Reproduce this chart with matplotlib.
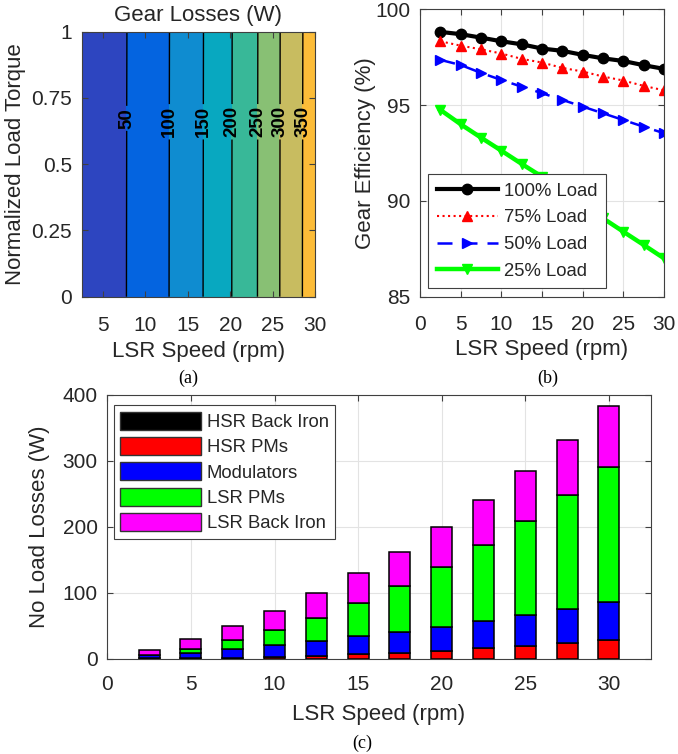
import numpy as np
import matplotlib
matplotlib.use("Agg")
import matplotlib.pyplot as plt
from matplotlib.colors import ListedColormap, BoundaryNorm
from matplotlib.patches import Patch

plt.rcParams['font.family'] = ['Liberation Sans', 'DejaVu Sans']
plt.rcParams['text.color'] = '#262626'
plt.rcParams['axes.labelcolor'] = '#262626'
plt.rcParams['xtick.color'] = '#404040'
plt.rcParams['ytick.color'] = '#404040'
plt.rcParams['xtick.labelcolor'] = '#262626'
plt.rcParams['ytick.labelcolor'] = '#262626'

# --- (a) gear losses map ---
map_speed = [2.5, 5, 7.5, 10, 12.5, 15, 17.5, 20, 22.5, 25, 27.5, 30]
map_torque = [0, 0.25, 0.5, 0.75, 1.0]
map_losses = [
    [12.2, 28.2, 47.5, 70.3, 96.3, 127.3, 158.7, 197.0, 236.4, 283.7, 331.7, 376.8],
    [12.1, 28.1, 47.4, 70.2, 96.2, 127.2, 158.6, 196.9, 236.3, 283.6, 331.6, 376.6],
    [12.0, 28.0, 47.3, 70.0, 96.0, 127.0, 158.4, 196.7, 236.0, 283.3, 331.3, 376.3],
    [11.9, 27.9, 47.2, 69.9, 95.9, 126.9, 158.3, 196.5, 235.8, 283.1, 331.1, 376.0],
    [11.8, 27.8, 47.0, 69.7, 95.7, 126.7, 158.1, 196.3, 235.6, 282.9, 330.8, 375.7],
]
loss_levels = [0, 50, 100, 150, 200, 250, 300, 350, 400]
band_colors = ['#2d45c0', '#0464e0', '#0f8cd0', '#08a8c0',
               '#38b898', '#88c074', '#c8bc60', '#fcbc38']

# --- (b) efficiency curves ---
speed = [2.5, 5, 7.5, 10, 12.5, 15, 17.5, 20, 22.5, 25, 27.5, 30]
eff_100 = [98.82, 98.70, 98.52, 98.33, 98.17, 97.95, 97.83, 97.62, 97.44, 97.30, 97.08, 96.89]
eff_75 = [98.33, 98.10, 97.91, 97.69, 97.41, 97.22, 96.94, 96.75, 96.49, 96.28, 96.00, 95.77]
eff_50 = [97.36, 97.09, 96.68, 96.31, 95.96, 95.62, 95.27, 94.92, 94.57, 94.22, 93.87, 93.53]
eff_25 = [94.75, 94.00, 93.30, 92.62, 91.93, 91.26, 90.55, 89.82, 89.09, 88.39, 87.70, 87.00]

# --- (c) no load loss breakdown ---
hsr_back_iron = [0, 0, 0, 0, 0, 0, 0, 0, 0, 0, 0, 0]
hsr_pms = [0.3, 0.5, 1.0, 3.0, 4.5, 6.5, 8.5, 12.0, 15.6, 19.1, 23.1, 27.6]
modulators = [5.0, 8.6, 13.6, 17.7, 22.8, 27.2, 32.2, 36.7, 42.2, 47.2, 52.8, 57.8]
lsr_pms = [1.0, 5.5, 13.2, 22.2, 34.7, 50.7, 69.9, 91.0, 115.1, 142.2, 171.8, 205.6]
lsr_back_iron = [6.7, 14.7, 21.2, 29.3, 37.0, 45.2, 51.7, 60.3, 67.3, 75.9, 83.5, 91.9]

fig = plt.figure(figsize=(6.78, 7.54), dpi=100)

ax_a = fig.add_axes([0.1205, 0.6065, 0.3441, 0.3515])
ax_b = fig.add_axes([0.6195, 0.6065, 0.3600, 0.3812])
ax_c = fig.add_axes([0.1583, 0.1264, 0.8015, 0.3500])

tick_fs = 15
label_fs = 16
legend_fs = 13.3

def style_axes(ax, xpad, ypad=7):
    for sp in ax.spines.values():
        sp.set_color('#404040')
        sp.set_linewidth(0.8)
    ax.tick_params(direction='in', length=4, width=0.8, labelsize=tick_fs,
                   top=True, right=True)
    ax.tick_params(axis='x', pad=xpad)
    ax.tick_params(axis='y', pad=ypad)

def place_labels(ax, xl_y, yl_x):
    ax.xaxis.set_label_coords(0.5, xl_y)
    ax.xaxis.label.set_verticalalignment('center')
    ax.yaxis.set_label_coords(yl_x, 0.5)
    ax.yaxis.label.set_verticalalignment('center')

# (a)
X, Y = np.meshgrid(map_speed, map_torque)
Z = np.array(map_losses)
cmap = ListedColormap(band_colors)
norm = BoundaryNorm(loss_levels, cmap.N)
ax_a.contourf(X, Y, Z, levels=loss_levels, cmap=cmap, norm=norm)
cs = ax_a.contour(X, Y, Z, levels=loss_levels[1:-1], colors='k', linewidths=1.0)
label_pos = [(7.8, 0.673), (12.82, 0.66), (16.83, 0.66), (20.21, 0.66),
             (23.24, 0.66), (25.87, 0.66), (28.54, 0.66)]
cl = ax_a.clabel(cs, fmt='%d', fontsize=13.5, inline=True, inline_spacing=2,
                 manual=label_pos)
for t in cl:
    t.set_fontweight('bold')
    t.set_color('k')
ax_a.set_xlim(2.5, 30)
ax_a.set_ylim(0, 1)
ax_a.set_xticks([5, 10, 15, 20, 25, 30])
ax_a.set_yticks([0, 0.25, 0.5, 0.75, 1])
ax_a.set_yticklabels(['0', '0.25', '0.5', '0.75', '1'])
style_axes(ax_a, xpad=14)
ax_a.set_title('Gear Losses (W)', fontsize=label_fs, y=1.0385, pad=0)
ax_a.set_xlabel('LSR Speed (rpm)', fontsize=label_fs)
ax_a.set_ylabel('Normalized Load Torque', fontsize=label_fs)
place_labels(ax_a, -0.207, -0.283)

# (b)
ax_b.plot(speed, eff_100, color='k', lw=3, marker='o', ms=7.5, label='100% Load')
ax_b.plot(speed, eff_75, color='r', lw=1.5, ls=':', marker='^', ms=7, label='75% Load')
ax_b.plot(speed, eff_50, color='b', lw=1.8, ls=(0, (6, 4)), marker='>', ms=7,
          label='50% Load')
ax_b.plot(speed, eff_25, color='#00ff00', lw=3.2, marker='v', ms=7.5, label='25% Load')
ax_b.set_xlim(0, 30)
ax_b.set_ylim(85, 100)
ax_b.set_xticks([0, 5, 10, 15, 20, 25, 30])
ax_b.set_yticks([85, 90, 95, 100])
ax_b.grid(True, color='#e3e3e3', lw=0.8)
ax_b.set_axisbelow(True)
style_axes(ax_b, xpad=13)
ax_b.set_xlabel('LSR Speed (rpm)', fontsize=label_fs)
ax_b.set_ylabel('Gear Efficiency (%)', fontsize=label_fs)
place_labels(ax_b, -0.183, -0.225)
leg_b = ax_b.legend(loc='lower left', bbox_to_anchor=(0.034, 0.029),
                    borderaxespad=0, fontsize=legend_fs,
                    handlelength=3.3, handletextpad=0.33, labelspacing=0.52,
                    borderpad=0.47, fancybox=False, framealpha=1,
                    edgecolor='#404040')
leg_b.get_frame().set_linewidth(0.8)

# (c)
width = 1.25
bottom = np.zeros(len(speed))
stack = [(hsr_back_iron, 'k', 'HSR Back Iron'),
         (hsr_pms, 'r', 'HSR PMs'),
         (modulators, 'b', 'Modulators'),
         (lsr_pms, '#00ff00', 'LSR PMs'),
         (lsr_back_iron, '#ff00ff', 'LSR Back Iron')]
for vals, col, name in stack:
    vals = np.array(vals, dtype=float)
    ax_c.bar(speed, vals, width=width, bottom=bottom, color=col,
             edgecolor='k', linewidth=1.1, label=name, zorder=3)
    bottom += vals
ax_c.set_xlim(0, 32.5)
ax_c.set_ylim(0, 400)
ax_c.set_xticks([0, 5, 10, 15, 20, 25, 30])
ax_c.set_yticks([0, 100, 200, 300, 400])
ax_c.grid(True, color='#e3e3e3', lw=0.8)
ax_c.set_axisbelow(True)
style_axes(ax_c, xpad=12)
ax_c.set_xlabel('LSR Speed (rpm)', fontsize=label_fs)
ax_c.set_ylabel('No Load Losses (W)', fontsize=label_fs)
place_labels(ax_c, -0.212, -0.124)
handles = [Patch(facecolor=c, edgecolor='#333333', lw=1.0) for _, c, _ in stack]
leg_c = ax_c.legend(handles, [n for _, _, n in stack], loc='upper left',
                    bbox_to_anchor=(0.0123, 0.9597), borderaxespad=0,
                    fontsize=legend_fs, handlelength=4.36, handleheight=1.13,
                    labelspacing=0.33, borderpad=0.33, handletextpad=0.33,
                    fancybox=False, framealpha=1, edgecolor='#404040')
leg_c.get_frame().set_linewidth(0.8)

# panel captions
for txt, x, y in [('(a)', 188, 378), ('(b)', 548, 378), ('(c)', 362, 743)]:
    fig.text(x / 678, 1 - y / 754, txt, ha='center', va='center',
             fontsize=13, family='Liberation Serif', color='k')

fig.savefig('out.png', dpi=100)
